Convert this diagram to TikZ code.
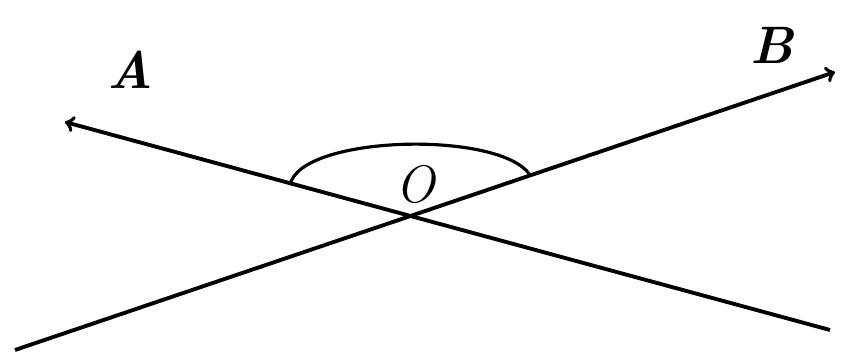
\documentclass[tikz,border=0pt]{standalone}
\usepackage{fontspec}
\usetikzlibrary{arrows,positioning}

\begin{document}
\begin{tikzpicture}[scale=1.0]
\useasboundingbox (0,0) rectangle (16.94,7.2);
% Ends of the two lines
\coordinate (Aend) at (1.3,4.76);
\coordinate (Cend) at (16.6,0.6);
\coordinate (Dend) at (0.3,0.2);
\coordinate (Bend) at (16.7,5.76);
\coordinate (O) at (8.21,2.88);

% Lines
\draw[->, line width=2.2pt] (Cend) -- (O) -- (Aend);
\draw[->, line width=2.2pt] (Dend) -- (O) -- (Bend);

% Angle arc
\coordinate (arcL) at (5.8,3.5);
\coordinate (arcR) at (10.6,3.7);
\draw[line width=1.8pt] (arcL) .. controls (6.0,4.5) and (10.0,4.6) .. (arcR);

% Labels
\node (labA) at (2.6,5.8) {\fontsize{30}{32}\selectfont\bfseries\itshape A};
\node (labB) at (15.45,6.3) {\fontsize{30}{32}\selectfont\bfseries\itshape B};
\node (labO) at (8.3,3.5) {\fontsize{30}{32}\selectfont\itshape O};
\end{tikzpicture}
\end{document}
